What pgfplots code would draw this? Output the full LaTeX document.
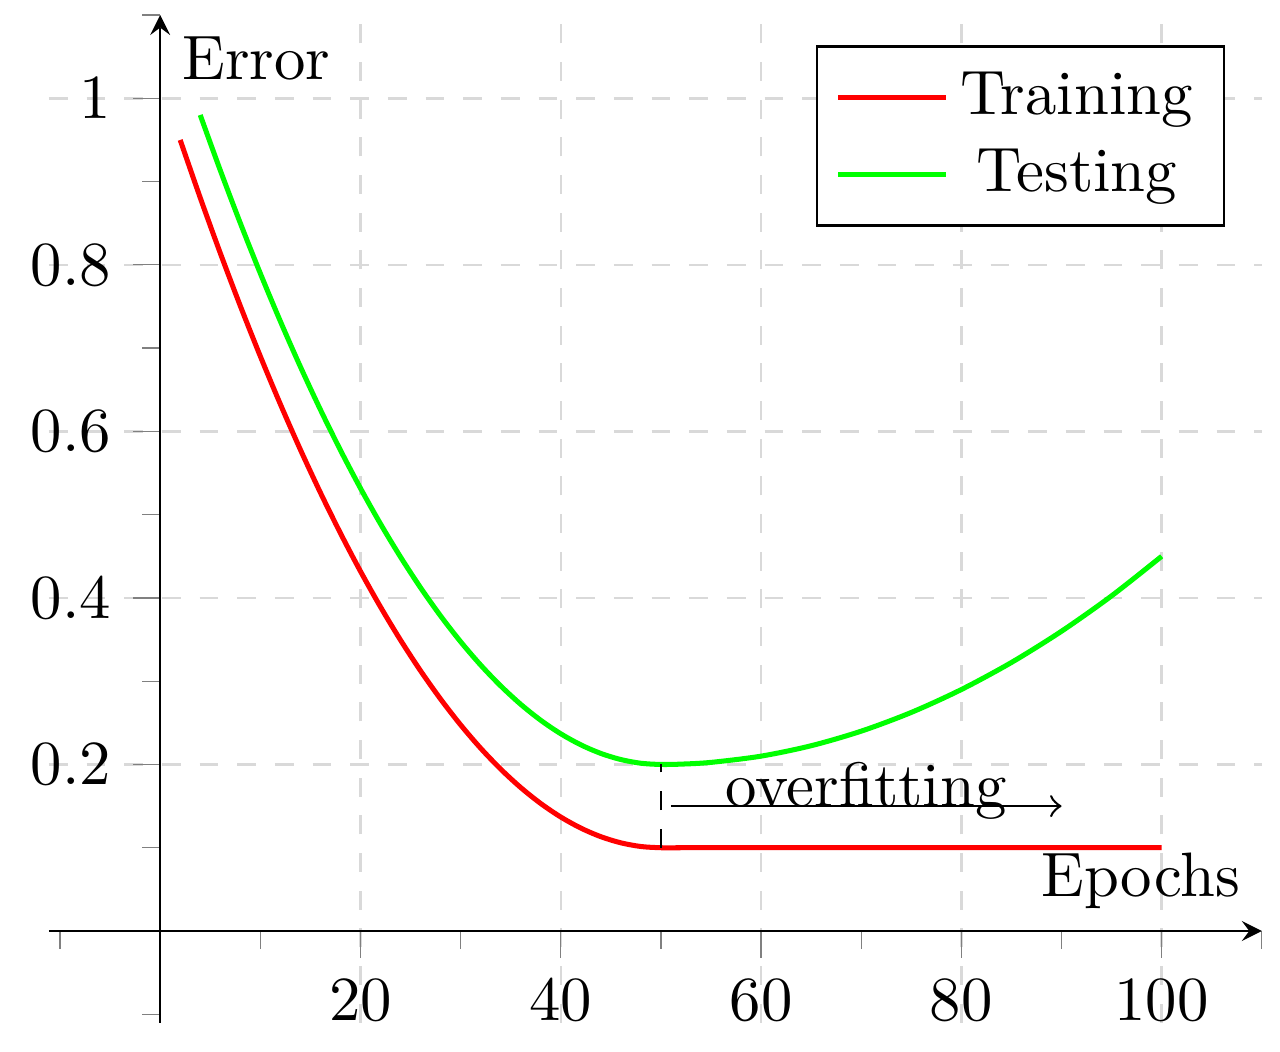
\documentclass[border=0pt]{standalone}
\usepackage{pgfplots}
\pgfplotsset{compat=1.18}
\definecolor{pgreen}{rgb}{0,1,0}
\begin{document}
\begin{tikzpicture}
\begin{axis}[
  scale only axis, width=193.2pt, height=160.5pt,
  axis lines=middle,
  xmin=-11.1, xmax=110, ymin=-0.11, ymax=1.1,
  xtick={20,40,60,80,100},
  ytick={0.2,0.4,0.6,0.8,1},
  minor xtick={-10,10,30,50,70,90,110},
  minor ytick={-0.1,0.1,0.3,0.5,0.7,0.9,1.1},
  tick align=outside,
  tick style={gray},
  grid=major,
  grid style={dashed, gray!30},
  xlabel={Epochs}, ylabel={Error},
  xlabel style={at={(current axis.right of origin)}, anchor=south east},
  ylabel style={at={(current axis.above origin)}, anchor=north west},
  legend style={at={(0.97,0.97)}, anchor=north east, draw=black},
  legend cell align=center,
]
\addplot[red, thick, smooth] coordinates {
(2,0.95000) (4,0.88065) (6,0.81424) (8,0.75079) (10,0.69028) (12,0.63273)
(14,0.57813) (16,0.52647) (18,0.47778) (20,0.43203) (22,0.38924) (24,0.34939)
(26,0.31250) (28,0.27856) (30,0.24757) (32,0.21953) (34,0.19444) (36,0.17231)
(38,0.15312) (40,0.13689) (42,0.12361) (44,0.11328) (46,0.10590) (48,0.10148)
(50,0.10000) (52,0.10000) (55,0.10000) (60,0.10000) (70,0.10000) (80,0.10000)
(90,0.10000) (100,0.10000)
};
\addlegendentry{Training}
\addplot[pgreen, thick, smooth] coordinates {
(4,0.98000) (6,0.91366) (8,0.85025) (10,0.78980) (12,0.73229) (14,0.67773)
(16,0.62613) (18,0.57747) (20,0.53176) (22,0.48900) (24,0.44919) (26,0.41232)
(28,0.37841) (30,0.34745) (32,0.31943) (34,0.29437) (36,0.27225) (38,0.25308)
(40,0.23686) (42,0.22359) (44,0.21327) (46,0.20590) (48,0.20147) (50,0.20000)
(52,0.20040) (55,0.20250) (60,0.21000) (65,0.22250) (70,0.24000) (75,0.26250)
(80,0.29000) (85,0.32250) (90,0.36000) (95,0.40250) (100,0.45000)
};
\addlegendentry{Testing}
\draw[dashed] (axis cs:50,0.1) -- (axis cs:50,0.2);
\draw[->] (axis cs:51,0.15) -- node[anchor=base] {overfitting} (axis cs:90,0.15);
\end{axis}
\path ([shift={(-1.6pt,-1.6pt)}]current bounding box.south west)
      ([shift={(2.7pt,2.2pt)}]current bounding box.north east);
\end{tikzpicture}
\end{document}
